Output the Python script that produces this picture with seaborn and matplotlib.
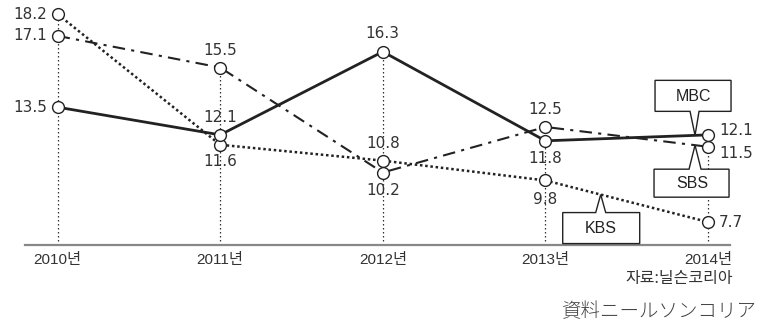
import numpy as np
import pandas as pd
import matplotlib
matplotlib.use("Agg")
import matplotlib.pyplot as plt
import seaborn as sns
from matplotlib.patches import Polygon
from matplotlib.transforms import ScaledTranslation

# ---- data ----
years = [2010, 2011, 2012, 2013, 2014]
year_labels = ["2010년", "2011년", "2012년", "2013년", "2014년"]
mbc = [13.5, 12.1, 16.3, 11.8, 12.1]
sbs = [17.1, 15.5, 10.2, 12.5, 11.5]
kbs = [18.2, 11.6, 10.8, 9.8, 7.7]
series_names = ["MBC", "SBS", "KBS"]
source_ko = "자료:닐슨코리아"
source_ja = "資料ニールソンコリア"

sns.set_theme(style="white")
plt.rcParams["font.family"] = ["Liberation Sans", "Noto Sans CJK KR", "DejaVu Sans"]

DPI = 100
fig = plt.figure(figsize=(7.59, 3.27), dpi=DPI)
W, H = 759, 327
ax = fig.add_axes([25 / W, (H - 245) / H, (730 - 25) / W, 245 / H])

ink = "#222222"
styles = {
    "MBC": dict(lw=2.0, linestyle="-"),
    "SBS": dict(lw=1.5, linestyle=(0, (6, 3, 1.5, 3))),
    "KBS": dict(lw=1.8, linestyle=(0, (1, 1.1))),
}
data = {"MBC": mbc, "SBS": sbs, "KBS": kbs}

ymin, ymax = 6.54, 18.91
ax.set_xlim(2009.80, 2014.135)
ax.set_ylim(ymin, ymax)

# dotted drop lines
tops = np.max(np.array([mbc, sbs, kbs]), axis=0)
ax.vlines(years, ymin, tops, colors="#333333", linestyles=(0, (1.2, 2)), lw=0.9, zorder=1)

for name in ["KBS", "SBS", "MBC"]:
    sns.lineplot(x=years, y=data[name], ax=ax, color=ink, marker="o", ms=8.5,
                 markerfacecolor="white", markeredgecolor=ink, markeredgewidth=1.0,
                 zorder=3, **styles[name])

# value label positions (offset in pixels)
label_pos = {
    "MBC": [(-10, 0, "right"), (0, 17, "c"), (0, 18, "c"), (0, -18, "c"), (11, 4, "left")],
    "SBS": [(-10, 0, "right"), (0, 17, "c"), (0, -18, "c"), (0, 17, "c"), (11, -7, "left")],
    "KBS": [(-10, 0, "right"), (0, -17, "c"), (0, 17, "c"), (0, -19, "c"), (11, 0, "left")],
}
for name in series_names:
    for x, v, (dx, dy, ha) in zip(years, data[name], label_pos[name]):
        ax.annotate(f"{v:.1f}", xy=(x, v), xytext=(dx, dy), textcoords="offset pixels",
                    ha={"c": "center"}.get(ha, ha), va="center", fontsize=11,
                    color="#333333", zorder=5, family=["DejaVu Sans"])


def callout(name, xpos, verts, text_off):
    yv = np.interp(xpos, years, data[name])
    trans = fig.dpi_scale_trans + ScaledTranslation(xpos, yv, ax.transData)
    pts = np.array(verts, dtype=float) / DPI
    poly = Polygon(pts, closed=True, facecolor="white", edgecolor=ink, lw=1.0,
                   transform=trans, zorder=6, clip_on=False)
    ax.add_patch(poly)
    ax.annotate(name, xy=(xpos, yv), xytext=text_off, textcoords="offset pixels",
                ha="center", va="center", fontsize=11.5, color=ink, zorder=7)


# MBC callout (box above, pointer down)
callout("MBC", 2013.92,
        [(0, 0), (4, 24), (36, 24), (36, 55), (-40, 55), (-40, 24), (-5, 24)], (-2, 39))
# SBS callout (box below, pointer up)
callout("SBS", 2013.92,
        [(0, 0), (6, -24), (34, -24), (34, -52), (-41, -52), (-41, -24), (-6, -24)], (-3, -38))
# KBS callout (box below, pointer up)
callout("KBS", 2013.34,
        [(0, 0), (5, -18), (39, -18), (39, -49), (-38, -49), (-38, -18), (-5, -18)], (0, -34))

# axes styling
for s in ["left", "right", "top"]:
    ax.spines[s].set_visible(False)
ax.spines["bottom"].set_color("#888888")
ax.spines["bottom"].set_linewidth(1.6)
ax.set_yticks([])
ax.set_xticks(years)
ax.set_xticklabels(year_labels, fontsize=11, color="#333333")
ax.tick_params(axis="x", length=0, pad=6)
ax.set_xlabel("")
ax.set_ylabel("")
ax.grid(False)

fig.text(733 / W, 1 - 279 / H, source_ko, ha="right", va="center", fontsize=11.5,
         color="#333333", family=["Noto Sans CJK KR", "DejaVu Sans"])
fig.text(757 / W, 1 - 312 / H, source_ja, ha="right", va="center", fontsize=14,
         color="#444444", family=["Noto Sans CJK JP", "DejaVu Sans"], fontweight="light")

fig.savefig("out.png", dpi=DPI)
